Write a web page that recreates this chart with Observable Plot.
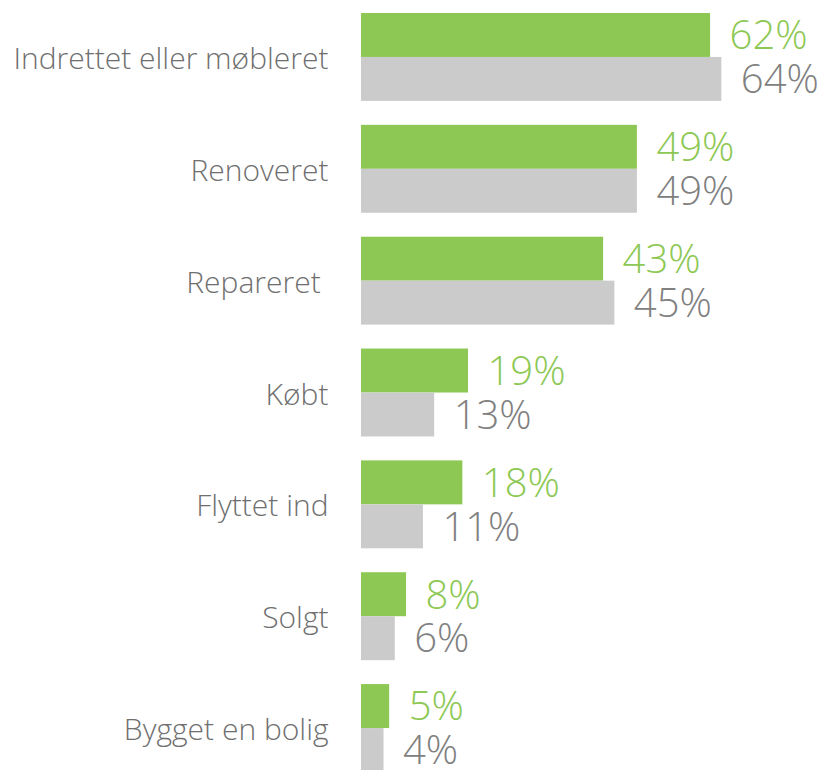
<!DOCTYPE html>
<html><head><meta charset="utf-8">
<script src="https://cdn.jsdelivr.net/npm/d3@7"></script>
<script src="https://cdn.jsdelivr.net/npm/@observablehq/plot@0.6"></script>
<style>body{margin:0;background:#fff}</style>
</head><body><div id="chart"></div>
<script>
const categories = ["Indrettet eller møbleret","Renoveret","Repareret\u00a0","Købt","Flyttet ind","Solgt","Bygget en bolig"];
const seriesNames = ["A","B"];
const valuesA = [62,49,43,19,18,8,5];
const valuesB = [64,49,45,13,11,6,4];
const barColors = ["#8cc853","#cbcbcb"];
const textColors = ["#8cc853","#808080"];
const data = categories.flatMap((c,i)=>[{cat:c, s:seriesNames[0], v:valuesA[i]},{cat:c, s:seriesNames[1], v:valuesB[i]}]);
const chart = Plot.plot({
  width:821, height:772, marginLeft:361, marginRight:0, marginTop:13, marginBottom:0,
  x:{domain:[0,81.7], axis:null},
  y:{domain:seriesNames, axis:null, padding:0, round:false},
  fy:{domain:categories, paddingInner:0.214, paddingOuter:0, label:null, round:false},
  color:{domain:seriesNames, range:barColors},
  style:{fontFamily:"'Open Sans'", fontWeight:300, background:"#fff"},
  marks:[
    Plot.barX(data,{fy:"cat", y:"s", x:"v", fill:"s"}),
    Plot.text(data.filter(d=>d.s===seriesNames[0]),{fy:"cat", y:"s", x:"v", text:d=>d.v+"%", dx:19, dy:1, textAnchor:"start", fontSize:40, fill:textColors[0]}),
    Plot.text(data.filter(d=>d.s===seriesNames[1]),{fy:"cat", y:"s", x:"v", text:d=>d.v+"%", dx:19, dy:1, textAnchor:"start", fontSize:40, fill:textColors[1]}),
    Plot.axisFy({anchor:"left", tickSize:0, tickPadding:33, fontSize:30, label:null, fill:"#6f6f6f", dy:2})
  ]
});
document.getElementById("chart").appendChild(chart);
</script>
</body></html>
